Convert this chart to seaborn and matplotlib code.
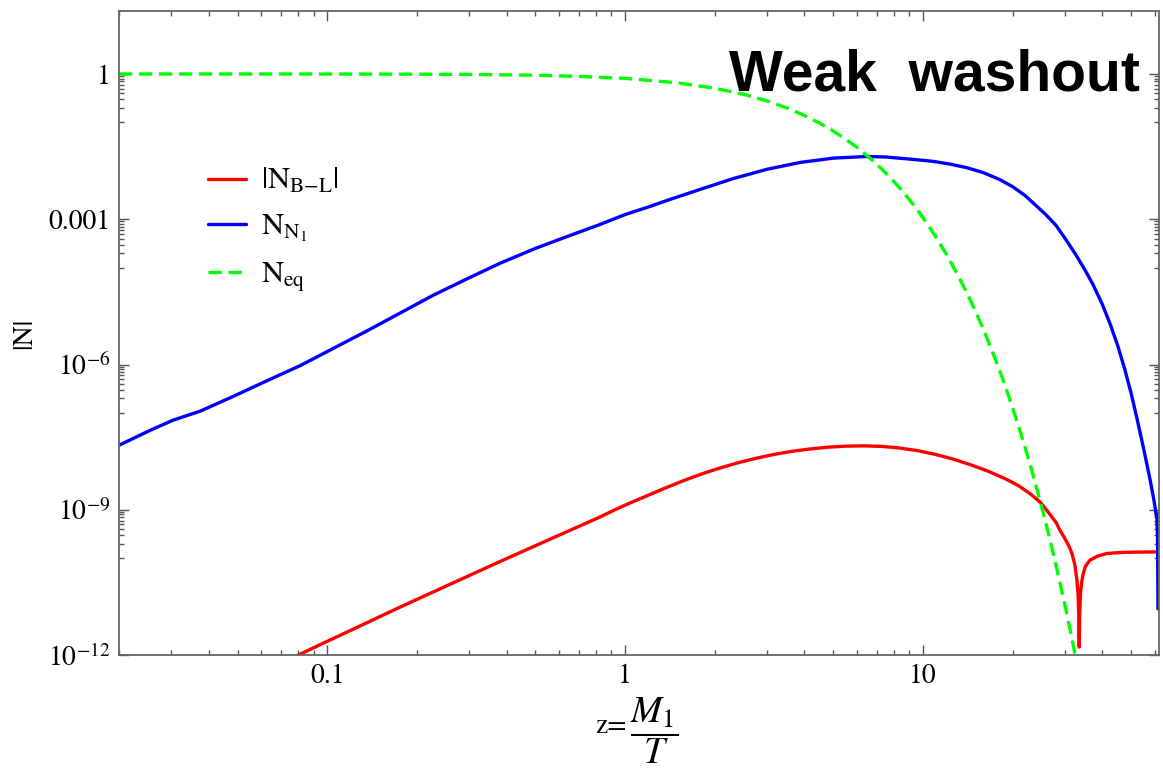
import numpy as np
import pandas as pd
import matplotlib
matplotlib.use('Agg')
import matplotlib.pyplot as plt
import seaborn as sns
from matplotlib.ticker import FixedLocator, FixedFormatter, NullFormatter

# z = M1/T values and abundances
z_eq = [0.02, 0.05, 0.1, 0.2, 0.3, 0.5, 0.7, 1.0, 1.5, 2.0, 2.5, 3.0, 3.5, 4.0,
        4.5, 5.0, 5.5, 6.0, 6.5, 7.0, 7.5, 8.0, 8.5, 9.0, 9.5, 10.0, 11.0,
        12.0, 13.0, 14.0, 15.0, 16.0, 17.0, 18.0, 19.0, 20.0, 21.0, 22.0,
        23.0, 24.0, 25.0, 26.0, 27.0, 28.0, 29.0, 30.0, 31.0, 32.0, 33.0]
n_eq = [1.0, 1.0, 0.998, 0.99, 0.98, 0.944, 0.89, 0.812, 0.657, 0.508, 0.38,
        0.277, 0.198, 0.139, 0.0966, 0.0664, 0.0451, 0.0306, 0.0204, 0.0137,
        9.0e-3, 5.93e-3, 3.89e-3, 2.54e-3, 1.66e-3, 1.08e-3, 4.5e-4, 1.86e-4,
        7.63e-5, 3.11e-5, 1.26e-5, 5.06e-6, 2.02e-6, 8.1e-7, 3.2e-7, 1.27e-7,
        4.99e-8, 1.96e-8, 7.7e-9, 3.0e-9, 1.17e-9, 4.56e-10, 1.77e-10,
        6.9e-11, 2.65e-11, 1.03e-11, 3.95e-12, 1.5e-12, 5.9e-13]

z_n1 = [0.0200, 0.0255, 0.0304, 0.0375, 0.0484, 0.0629, 0.0812, 0.105, 0.136,
        0.175, 0.227, 0.30, 0.381, 0.50, 0.639, 0.824, 1.0, 1.213, 1.383, 1.8,
        2.304, 3.0, 3.865, 5.0, 6.49, 7.5, 8.37, 9.5, 10.8, 12.3, 14.05, 16.0,
        18.1, 20.0, 22.0, 24.0, 26.0, 28.0, 30.4, 32.5, 35.0, 37.2, 40.0, 42.4,
        45.0, 47.6, 50.0, 52.3, 55.0, 57.8, 59.5, 60.5, 61.0, 61.3, 61.5]
n_n1 = [2.15e-8, 4.4e-8, 7.1e-8, 1.09e-7, 2.2e-7, 4.65e-7, 9.5e-7, 2.16e-6,
        4.95e-6, 1.14e-5, 2.7e-5, 6.2e-5, 1.24e-4, 2.5e-4, 4.4e-4, 7.8e-4,
        1.25e-3, 1.84e-3, 2.45e-3, 4.2e-3, 6.9e-3, 0.0108, 0.0149, 0.0183,
        0.0198, 0.0193, 0.0182, 0.017, 0.0157, 0.0138, 0.0116, 9.1e-3, 6.6e-3,
        4.7e-3, 3.1e-3, 1.9e-3, 1.2e-3, 7.4e-4, 3.55e-4, 1.9e-4, 8.9e-5,
        4.5e-5, 1.74e-5, 7.1e-6, 2.5e-6, 7.9e-7, 2.5e-7, 7.6e-8, 1.86e-8,
        4.3e-9, 1.66e-9, 8.9e-10, 6.5e-10, 2.5e-10, 9e-12]

z_bl = [0.0696, 0.097, 0.1195, 0.1758, 0.2587, 0.3806, 0.560, 0.824, 0.933,
        1.072, 1.23, 1.38, 1.585, 1.82, 2.09, 2.40, 2.754, 3.16, 3.63, 4.17,
        4.79, 5.50, 6.31, 7.24, 8.32, 9.55, 10.96, 12.59, 14.45, 16.6, 19.05,
        21.0, 23.0, 24.7, 26.5, 28.0, 28.8, 30.0, 31.0, 31.6, 32.3, 32.87,
        33.15, 33.35, 33.45, 33.55, 33.8, 34.17, 34.6, 35.1, 36.35, 38.5, 41.4,
        45.0, 50.0, 61.5]
n_bl = [6.6e-13, 1.76e-12, 3.2e-12, 9.8e-12, 2.9e-11, 8.55e-11, 2.47e-10,
        7.1e-10, 1.03e-9, 1.5e-9, 2.15e-9, 2.9e-9, 4.08e-9, 5.57e-9, 7.35e-9,
        9.4e-9, 1.16e-8, 1.39e-8, 1.61e-8, 1.8e-8, 1.96e-8, 2.06e-8, 2.09e-8,
        2.04e-8, 1.89e-8, 1.67e-8, 1.4e-8, 1.12e-8, 8.5e-9, 6.2e-9, 4.27e-9,
        3.1e-9, 2.1e-9, 1.45e-9, 8.5e-10, 5.4e-10, 3.8e-10, 2.5e-10, 1.7e-10,
        1.27e-10, 7.6e-11, 3.5e-11, 1.8e-11, 6.3e-12, 1.46e-12, 6.3e-12,
        2.0e-11, 3.5e-11, 5.1e-11, 6.8e-11, 9.1e-11, 1.1e-10, 1.25e-10,
        1.3e-10, 1.33e-10, 1.35e-10]

ytick_vals = [1e-12, 1e-9, 1e-6, 1e-3, 1.0]
ytick_labels = ['$10^{-12}$', '$10^{-9}$', '$10^{-6}$', '0.001', '1']
xtick_vals = [0.1, 1.0, 10.0]
xtick_labels = ['0.1', '1', '10']

sns.set_style('ticks')
plt.rcParams['font.family'] = ['STIXGeneral', 'DejaVu Serif']
plt.rcParams['mathtext.fontset'] = 'stix'
plt.rcParams['text.color'] = 'black'
plt.rcParams['axes.labelcolor'] = 'black'

fig = plt.figure(figsize=(11.63, 7.69), dpi=100)
ax = fig.add_axes([0.1023, 0.1482, 0.8943, 0.8375])

lw = 2.4
sns.lineplot(x=z_bl, y=n_bl, color='#ff0000', lw=lw, sort=False, estimator=None,
             label=r'$|\mathrm{N}_{\mathrm{B{-}L}}|$', ax=ax)
sns.lineplot(x=z_n1, y=n_n1, color='#0000ff', lw=lw, sort=False, estimator=None,
             label=r'$\mathrm{N}_{\mathrm{N}_1}$', ax=ax)
sns.lineplot(x=z_eq, y=n_eq, color='#00ff00', lw=lw, sort=False, estimator=None,
             linestyle=(0, (4, 2)), label=r'$\mathrm{N}_{\mathrm{eq}}$', ax=ax)

ax.set(xscale='log', yscale='log')
ax.set_xlim(0.02, 62)
ax.set_ylim(1e-12, 20)

# major ticks as in the reference frame
ax.xaxis.set_major_locator(FixedLocator(xtick_vals))
ax.xaxis.set_major_formatter(FixedFormatter(xtick_labels))
x_minor = [m * 10.0 ** k for k in (-2, -1, 0, 1) for m in range(2, 10)]
ax.xaxis.set_minor_locator(FixedLocator(x_minor))
ax.xaxis.set_minor_formatter(NullFormatter())

ax.yaxis.set_major_locator(FixedLocator(ytick_vals))
ax.yaxis.set_major_formatter(FixedFormatter(ytick_labels))
y_minor = [m * 10.0 ** (k - 1) for k in (0, -3, -6, -9) for m in range(1, 10)]
ax.yaxis.set_minor_locator(FixedLocator(y_minor))
ax.yaxis.set_minor_formatter(NullFormatter())

ax.tick_params(which='both', direction='in', top=True, right=True,
               color='#555555', labelcolor='black', width=1.0, labelsize=20,
               pad=6)
ax.tick_params(which='major', length=7)
ax.tick_params(which='minor', length=3.5)
for sp in ax.spines.values():
    sp.set_color('#666666')
    sp.set_linewidth(1.3)

# x label: "z=" plus a larger fraction
fig.text(627 / 1163, 1 - 726 / 769, 'z=', fontsize=20, ha='right', va='center')
fig.text(654 / 1163, 1 - 731 / 769, r'$\dfrac{M_1}{T}$', fontsize=27,
         ha='center', va='center')
ax.set_ylabel('|N|', fontsize=20, labelpad=8)

ax.text(0.982, 0.877, 'Weak  washout', transform=ax.transAxes, ha='right',
        va='baseline', fontsize=41, fontweight='bold', family='Liberation Sans',
        color='black')

ax.legend(loc='upper left', bbox_to_anchor=(208 / 1163, 1 - 167 / 769),
          bbox_transform=fig.transFigure, frameon=False, fontsize=22,
          handlelength=1.25, handletextpad=0.5, labelspacing=0.55,
          borderpad=0, borderaxespad=0)

fig.savefig('out.png', dpi=100)
